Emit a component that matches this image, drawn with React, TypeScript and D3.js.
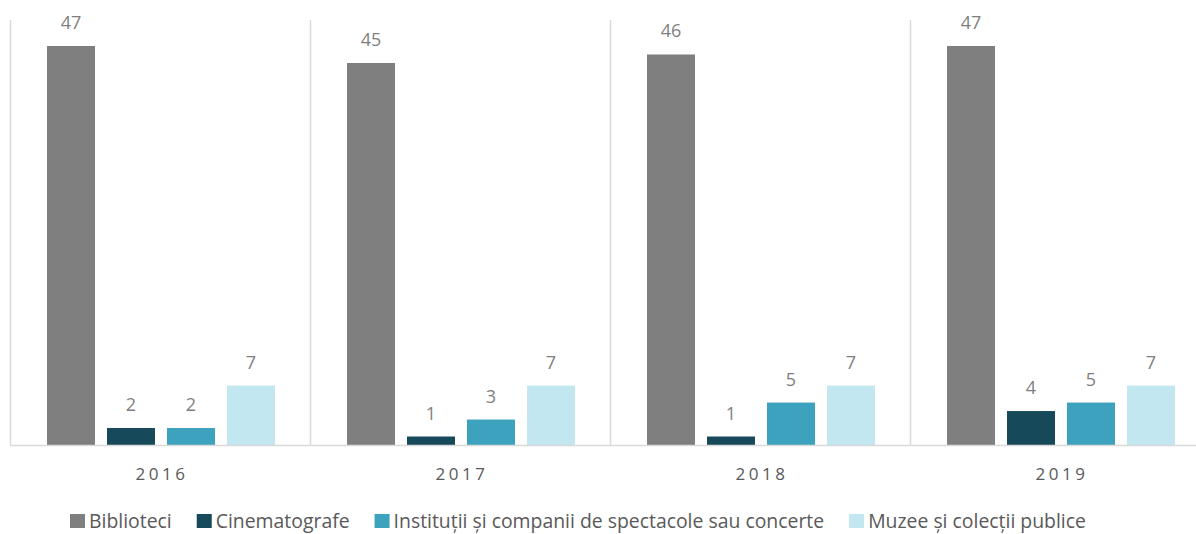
import * as d3 from 'd3';
import React, { useEffect, useRef } from 'react';

const years = ['2016', '2017', '2018', '2019'];
const seriesNames = [
  'Biblioteci',
  'Cinematografe',
  'Instituții și companii de spectacole sau concerte',
  'Muzee și colecții publice',
];
const biblioteci = [47, 45, 46, 47];
const cinematografe = [2, 1, 1, 4];
const institutii = [2, 3, 5, 5];
const muzee = [7, 7, 7, 7];
const colors = ['#7f7f7f', '#16495a', '#3da2be', '#c2e7f0'];

function App() {
  const ref = useRef<SVGSVGElement>(null);

  useEffect(() => {
    const width = 1196;
    const base = 445;
    const font = '"Open Sans", sans-serif';
    const values = [biblioteci, cinematografe, institutii, muzee];

    const svg = d3.select(ref.current);
    svg.selectAll('*').remove();

    const x = d3.scaleBand().domain(years).range([10, 1210]);
    const inner = d3.scaleBand().domain(seriesNames).range([37, 265]).paddingInner(0.2);
    const y = d3.scaleLinear().domain([0, 47]).range([base, 46]);

    // group separators
    svg.append('g')
      .selectAll('line')
      .data(years)
      .join('line')
      .attr('x1', d => x(d)! + 0.5)
      .attr('x2', d => x(d)! + 0.5)
      .attr('y1', 20)
      .attr('y2', base)
      .attr('stroke', '#d9d9d9')
      .attr('stroke-width', 1.5);

    years.forEach((yr, i) => {
      const g = svg.append('g').attr('transform', `translate(${x(yr)},0)`);
      seriesNames.forEach((s, j) => {
        const v = values[j][i];
        g.append('rect')
          .attr('x', inner(s)!)
          .attr('y', y(v))
          .attr('width', inner.bandwidth())
          .attr('height', base - y(v))
          .attr('fill', colors[j]);
        g.append('text')
          .attr('x', inner(s)! + inner.bandwidth() / 2)
          .attr('y', y(v) - 17)
          .attr('text-anchor', 'middle')
          .attr('font-family', font)
          .attr('font-size', 18)
          .attr('fill', '#7f7f7f')
          .text(v);
      });
      g.append('text')
        .attr('x', x.bandwidth() / 2 + 2)
        .attr('y', 480)
        .attr('text-anchor', 'middle')
        .attr('font-family', font)
        .attr('font-size', 17)
        .attr('letter-spacing', 3.5)
        .attr('fill', '#595959')
        .text(yr);
    });

    // baseline
    svg.append('line')
      .attr('x1', 10).attr('x2', width)
      .attr('y1', base + 0.5).attr('y2', base + 0.5)
      .attr('stroke', '#d9d9d9')
      .attr('stroke-width', 1.5);

    // legend
    const legend = svg.append('g');
    const items = seriesNames.map((s, j) => {
      const it = legend.append('g');
      it.append('rect').attr('width', 15).attr('height', 14).attr('y', 514).attr('fill', colors[j]);
      const t = it.append('text')
        .attr('x', 19)
        .attr('y', 528)
        .attr('font-family', font)
        .attr('font-size', 19.4)
        .attr('fill', '#595959')
        .text(s);
      return { it, w: 19 + (t.node() as SVGTextElement).getComputedTextLength() };
    });
    const gap = 25;
    let cx = 70;
    items.forEach(d => {
      d.it.attr('transform', `translate(${cx},0)`);
      cx += d.w + gap;
    });
  });

  return (
    <svg ref={ref} width={1196} height={534} style={{ position: 'absolute', left: 0, top: 0, background: '#fff' }} />
  );
}

export default App;
